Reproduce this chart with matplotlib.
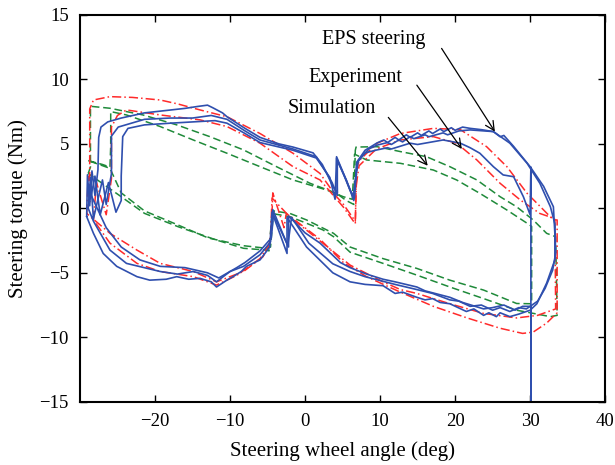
import matplotlib
matplotlib.use("Agg")
import matplotlib.pyplot as plt

plt.rcParams['font.family'] = ['Liberation Serif', 'DejaVu Serif']
plt.rcParams['axes.unicode_minus'] = True

# ---- measured hysteresis cycles: (steering wheel angle [deg], torque [Nm]) ----
eps_cycle_a = [(-29.1, -0.6), (-29.0, 2.6), (-28.7, 0.2), (-28.4, 2.9), (-28.0, 1.0), (-27.6, 3.0),
               (-27.5, 5.5), (-27.2, 6.3), (-26.3, 6.7), (-24.5, 7.0), (-21.4, 7.4), (-18.3, 7.6),
               (-16.0, 7.75), (-14.3, 7.9), (-13.0, 8.0), (-12.3, 7.8), (-11.0, 7.4), (-10.4, 7.1),
               (-8.0, 6.2), (-6.0, 5.5), (-3.5, 5.0), (-1.6, 4.75), (1.07, 4.3), (2.3, 3.4), (2.9, 2.7),
               (3.7, 1.7), (4.3, 1.2), (4.2, 4.0), (5.2, 2.6), (6.4, 0.9), (7.1, 3.75), (8.0, 4.5),
               (9.6, 5.07), (10.5, 5.3), (11.0, 5.1), (12.0, 5.5), (12.5, 5.3), (13.5, 5.7), (14.0, 5.5),
               (15.0, 5.85), (15.5, 5.65), (16.5, 6.0), (17.0, 5.8), (18.0, 6.15), (18.5, 5.95),
               (19.5, 6.25), (20.0, 6.05), (21.0, 6.3), (22.0, 6.2), (23.5, 6.1), (25.1, 5.95),
               (26.0, 5.55), (26.5, 5.65), (27.8, 4.8), (30.0, 3.23), (31.8, 1.7), (33.1, 0.12),
               (33.3, -2.0), (33.3, -4.0), (32.2, -5.8), (30.9, -7.4), (30.0, -7.9), (28.5, -8.2),
               (27.3, -8.4), (26.0, -8.1), (25.5, -8.4), (24.5, -8.1), (23.8, -8.3), (22.5, -7.8),
               (21.5, -8.0), (19.3, -7.4), (18.0, -7.3), (17.0, -7.0), (16.0, -7.1), (14.9, -6.9),
               (13.0, -6.5), (12.0, -6.6), (10.4, -6.0), (8.0, -5.9), (6.0, -5.7), (3.7, -5.0),
               (0.2, -3.0), (-2.4, -0.7), (-2.4, -3.5), (-4.4, -0.3), (-4.7, -3.0), (-6.0, -4.0),
               (-7.8, -4.5), (-8.5, -4.9), (-9.6, -5.3), (-10.5, -5.6), (-11.8, -6.1), (-12.5, -5.7),
               (-14.0, -5.43), (-15.5, -5.5), (-17.1, -5.3), (-18.5, -5.5), (-20.7, -5.57),
               (-22.4, -5.3), (-25.1, -4.5), (-26.9, -3.5), (-28.2, -1.94), (-29.1, -0.65)]

eps_cycle_b = [(-28.9, 0.0), (-28.6, 2.4), (-28.2, -0.8), (-27.0, 2.2), (-26.5, 0.3), (-25.8, 2.7),
               (-25.8, 5.6), (-24.9, 6.3), (-21.4, 6.9), (-18.0, 7.0), (-15.0, 7.0), (-12.5, 7.2),
               (-10.4, 6.9), (-8.0, 6.0), (-6.0, 5.3), (-1.6, 4.6), (1.5, 4.0), (2.9, 2.7), (3.6, 2.0),
               (4.3, 1.0), (4.3, 3.7), (5.5, 2.2), (6.5, 0.6), (6.9, 3.6), (8.5, 4.6), (9.6, 4.9),
               (11.0, 5.1), (11.5, 4.95), (12.5, 5.3), (13.0, 5.15), (14.0, 5.56), (14.5, 5.4),
               (16.0, 5.7), (16.5, 5.55), (18.4, 5.85), (19.0, 5.7), (20.5, 6.0), (22.0, 6.08),
               (25.1, 5.95), (27.3, 5.05), (29.6, 3.49), (31.3, 1.94), (32.7, 0.12), (33.3, -1.2),
               (33.4, -3.5), (33.0, -4.8), (32.0, -6.2), (31.0, -7.2), (29.5, -7.8), (28.5, -7.7),
               (27.3, -8.0), (26.0, -7.7), (25.0, -7.9), (23.5, -7.5), (22.0, -7.6), (20.5, -7.2),
               (19.3, -7.1), (17.0, -6.6), (14.9, -6.3), (12.0, -5.9), (10.0, -5.6), (8.0, -5.3),
               (6.0, -4.9), (3.7, -4.3), (0.5, -2.7), (-1.8, -0.7), (-2.3, -2.9), (-4.3, -0.1),
               (-4.6, -2.6), (-6.0, -3.6), (-8.2, -4.5), (-10.0, -4.9), (-11.8, -5.7), (-13.0, -5.2),
               (-14.9, -4.9), (-17.0, -5.1), (-19.3, -4.9), (-23.8, -4.27), (-26.0, -3.24),
               (-28.2, -1.0), (-28.9, 0.0)]

eps_cycle_c = [(-28.5, 1.0), (-28.0, 2.5), (-27.3, -0.5), (-26.2, 2.0), (-25.2, -0.3), (-24.5, 0.6),
               (-24.5, 2.5), (-24.3, 5.56), (-23.6, 6.2), (-21.4, 6.47), (-18.0, 6.6), (-15.0, 6.7),
               (-12.0, 6.8), (-10.4, 6.6), (-8.0, 5.8), (-6.0, 5.1), (-1.6, 4.5), (1.5, 3.9), (3.3, 2.4),
               (4.0, 0.7), (4.2, 3.9), (5.3, 2.4), (6.0, 1.4), (6.6, 0.8), (6.9, 3.5), (8.0, 4.3),
               (9.6, 4.53), (11.0, 4.7), (11.5, 4.6), (14.0, 5.05), (15.0, 4.95), (18.4, 5.3),
               (20.7, 5.05), (22.0, 4.7), (23.3, 4.27), (25.1, 3.23), (26.4, 2.59), (27.8, 2.45),
               (29.1, 0.9), (30.0, -0.5), (30.1, 3.2), (30.1, -15.0), (30.1, -7.6), (29.0, -7.6),
               (28.0, -7.9), (26.5, -7.5), (25.0, -7.7), (23.8, -7.8), (21.0, -7.3), (19.3, -6.9),
               (16.0, -6.4), (14.9, -6.1), (12.0, -5.7), (10.4, -5.5), (8.2, -5.1), (6.0, -4.6),
               (4.7, -4.2), (2.0, -2.7), (0.0, -1.9), (-1.5, -1.0), (-2.2, -0.6), (-2.2, -3.0),
               (-4.2, -0.5), (-4.5, -2.3), (-6.0, -3.3), (-8.0, -4.2), (-9.1, -4.6), (-11.5, -5.4),
               (-13.0, -5.0), (-16.0, -4.6), (-19.3, -4.5), (-22.0, -4.0), (-24.5, -3.0), (-26.5, -1.5),
               (-28.5, 1.0)]

exp_cycle_a = [(-29.1, -0.4), (-28.9, 2.5), (-28.7, 0.5), (-28.7, 7.7), (-28.2, 8.4), (-26.0, 8.66),
               (-23.0, 8.6), (-19.3, 8.4), (-17.0, 8.1), (-14.0, 7.63), (-10.4, 7.1), (-6.0, 5.8),
               (-1.6, 4.27), (2.0, 2.7), (4.2, 0.9), (5.0, 0.4), (6.7, -1.0), (6.9, 3.2), (7.3, 3.75),
               (9.6, 5.05), (12.7, 5.8), (17.1, 6.2), (20.7, 6.1), (24.2, 4.78), (26.9, 3.23),
               (29.6, 1.16), (31.8, -0.13), (33.1, -0.9), (33.6, -0.9), (33.6, -8.1), (32.2, -8.9),
               (30.4, -9.6), (29.0, -9.7), (26.0, -9.3), (21.6, -8.5), (17.1, -7.6), (12.7, -6.5),
               (8.2, -5.3), (5.1, -4.2), (2.0, -2.4), (-0.7, -1.2), (-2.5, -0.4), (-2.8, -1.5),
               (-4.3, 1.2), (-4.5, -1.9), (-4.7, -2.7), (-5.6, -3.75), (-8.2, -4.9), (-11.8, -5.7),
               (-14.9, -4.9), (-19.3, -4.27), (-22.4, -3.24), (-26.0, -1.94), (-29.1, -0.4)]

exp_cycle_b = [(-28.2, -0.9), (-27.8, 2.0), (-26.5, -0.5), (-25.8, 2.3), (-25.8, 6.3), (-25.0, 7.2),
               (-23.8, 7.63), (-19.3, 7.24), (-14.0, 6.86), (-10.4, 6.34), (-6.0, 5.05), (-1.6, 3.23),
               (2.0, 2.2), (5.1, 0.1), (6.7, -1.2), (6.8, 1.7), (7.2, 3.3), (9.5, 4.6), (12.7, 5.3),
               (17.1, 5.56), (20.2, 5.05), (22.9, 3.75), (26.0, 1.94), (28.7, 0.64), (31.3, -0.4),
               (33.3, -0.8), (33.4, -7.8), (31.0, -8.3), (28.2, -8.5), (23.8, -8.15), (19.3, -7.4),
               (14.9, -6.6), (12.7, -6.3), (10.4, -5.7), (6.0, -4.4), (3.0, -3.0), (0.0, -1.6),
               (-2.0, -0.7), (-2.3, -0.5), (-4.4, 0.8), (-4.6, -2.2), (-4.8, -2.8), (-6.0, -3.9),
               (-9.1, -5.2), (-11.8, -5.95), (-14.9, -5.3), (-19.3, -4.9), (-22.4, -4.27), (-26.0, -2.7),
               (-28.2, -0.9)]

sim_cycle_a = [(-28.9, 2.7), (-28.6, 3.2), (-28.6, 7.9), (-28.4, 7.9), (-26.0, 7.76), (-21.6, 7.24),
               (-17.1, 6.47), (-12.7, 5.56), (-8.2, 4.53), (-3.8, 3.23), (0.67, 1.94), (4.2, 1.16),
               (5.5, 0.6), (6.5, 0.3), (6.7, 4.5), (6.8, 4.75), (9.6, 4.78), (12.7, 4.4), (16.2, 4.0),
               (19.3, 3.23), (22.9, 2.2), (26.0, 0.9), (28.2, 0.12), (30.4, -0.9), (32.2, -1.94),
               (33.4, -2.2), (33.6, -8.3), (32.7, -8.4), (28.2, -7.9), (23.8, -7.0), (19.3, -6.1),
               (14.9, -5.18), (10.4, -4.27), (6.0, -3.4), (3.8, -2.2), (2.4, -1.68), (0.2, -1.16),
               (-2.0, -0.65), (-4.4, -0.4), (-4.8, -3.3), (-5.1, -3.24), (-8.2, -3.1), (-11.8, -2.46),
               (-16.9, -1.43), (-21.4, -0.39), (-24.5, 0.9), (-28.9, 2.7)]

sim_cycle_b = [(-28.9, 3.7), (-27.0, 3.4), (-26.0, 3.2), (-25.9, 4.8), (-25.9, 7.5), (-23.8, 7.24),
               (-19.3, 6.34), (-14.9, 5.3), (-10.4, 4.27), (-6.0, 3.23), (-1.6, 2.2), (2.9, 1.42),
               (5.1, 0.9), (6.3, 0.7), (6.6, 4.2), (8.2, 3.75), (12.7, 3.49), (17.1, 2.97), (20.2, 2.2),
               (23.3, 1.16), (26.9, -0.13), (29.6, -1.16), (30.2, -1.4), (30.2, -3.5), (30.2, -7.4),
               (28.2, -7.38), (23.8, -6.34), (19.3, -5.57), (14.9, -4.66), (10.4, -3.9), (6.0, -3.0),
               (3.8, -1.94), (0.2, -0.9), (-2.0, -0.4), (-4.2, -0.2), (-4.6, -3.0), (-5.1, -3.1),
               (-8.2, -2.9), (-12.9, -2.3), (-16.9, -1.3), (-21.4, -0.2), (-24.5, 1.2), (-26.0, 3.1),
               (-28.9, 3.7)]

x_ticks = [-20, -10, 0, 10, 20, 30, 40]
y_ticks = [-15, -10, -5, 0, 5, 10, 15]

# annotation text, text anchor and arrow tip (data units)
labels = ["EPS steering", "Experiment", "Simulation"]
label_pos = [(9.2, 13.1), (6.7, 10.15), (3.6, 7.75)]
arrow_tail = [(18.2, 12.4), (14.9, 9.55), (11.1, 7.05)]
arrow_head = [(25.3, 5.95), (20.9, 4.6), (16.35, 3.3)]

BLUE = "#2f4fae"
RED = "#ff2a2a"
GREEN = "#1f8a3a"

fig = plt.figure(figsize=(6.15, 4.65), dpi=100)
ax = fig.add_axes([0.130, 0.136, 0.854, 0.832])


def unzip(points):
    return [p[0] for p in points], [p[1] for p in points]


for cyc in (sim_cycle_a, sim_cycle_b):
    xs, ys = unzip(cyc)
    ax.plot(xs, ys, color=GREEN, lw=1.1, linestyle=(0, (5, 2.5)))
for cyc in (exp_cycle_a, exp_cycle_b):
    xs, ys = unzip(cyc)
    ax.plot(xs, ys, color=RED, lw=1.1, linestyle=(0, (6, 2, 1, 2)))
for cyc in (eps_cycle_a, eps_cycle_b, eps_cycle_c):
    xs, ys = unzip(cyc)
    ax.plot(xs, ys, color=BLUE, lw=1.2)

for text, pos, tail, head in zip(labels, label_pos, arrow_tail, arrow_head):
    ax.text(pos[0], pos[1], text, fontsize=14.5, ha="center", va="center")
    ax.annotate("", xy=head, xytext=tail,
                arrowprops=dict(arrowstyle="->", color="black", lw=0.9,
                                mutation_scale=16, shrinkA=0, shrinkB=0))

ax.set_xlim(-30, 40)
ax.set_ylim(-15, 15)
ax.set_xticks(x_ticks)
ax.set_yticks(y_ticks)
ax.tick_params(direction="in", top=True, right=True, length=5, width=1.0,
               labelsize=13.5, pad=8)
for s in ax.spines.values():
    s.set_linewidth(1.5)
ax.set_xlabel("Steering wheel angle (deg)", fontsize=15, va="center")
ax.set_ylabel("Steering torque (Nm)", fontsize=15, va="center")
ax.xaxis.set_label_coords(0.5, -0.128)
ax.yaxis.set_label_coords(-0.118, 0.5)

fig.savefig("out.png", dpi=100)
